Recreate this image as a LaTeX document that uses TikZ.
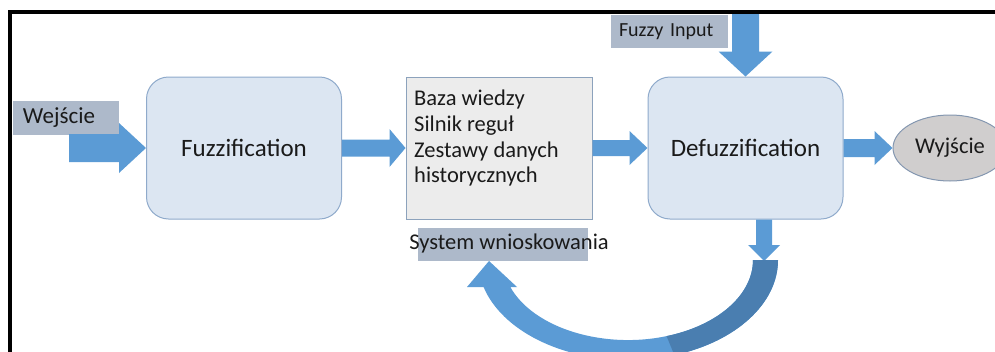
\documentclass[tikz,border=0pt]{standalone}
\usepackage{fontspec}
\setmainfont{Carlito}
\usetikzlibrary{calc,shapes.geometric}

\definecolor{procfill}{HTML}{DCE6F2}
\definecolor{procline}{HTML}{8FAACB}
\definecolor{kbfill}{HTML}{ECECEC}
\definecolor{kbline}{HTML}{8CA2BC}
\definecolor{tagfill}{HTML}{ADB9CA}
\definecolor{arrowblue}{HTML}{5B9BD5}
\definecolor{arrowdark}{HTML}{4A7EB0}
\definecolor{outfill}{HTML}{D0CECE}
\definecolor{outline}{HTML}{8497B0}
\definecolor{ink}{HTML}{1A1A1A}

% horizontal block arrow: from, to, shaft half width, head half width, head length
\newcommand\rightblock[5]{%
  \fill[blockarrow] let \p1=(#1), \p2=(#2) in
    (\x1,{\y2+#3pt}) -- ({\x2-#5pt},{\y2+#3pt}) -- ({\x2-#5pt},{\y2+#4pt})
    -- (\x2,\y2) -- ({\x2-#5pt},{\y2-#4pt}) -- ({\x2-#5pt},{\y2-#3pt})
    -- (\x1,{\y2-#3pt}) -- cycle;}
% vertical block arrow pointing down: from, to, shaft half width, head half width, head length
\newcommand\downblock[5]{%
  \fill[blockarrow] let \p1=(#1), \p2=(#2) in
    ({\x2-#3pt},\y1) -- ({\x2-#3pt},{\y2+#5pt}) -- ({\x2-#4pt},{\y2+#5pt})
    -- (\x2,\y2) -- ({\x2+#4pt},{\y2+#5pt}) -- ({\x2+#3pt},{\y2+#5pt})
    -- ({\x2+#3pt},\y1) -- cycle;}

\begin{document}
\begin{tikzpicture}[x=1pt,y=-1pt,
  proc/.style={draw=procline, fill=procfill, line width=1pt, rounded corners=22pt,
    minimum width=195pt, minimum height=142pt, inner sep=0pt, text=ink,
    font=\fontsize{25}{30}\selectfont},
  kbase/.style={draw=kbline, fill=kbfill, line width=1pt,
    minimum width=186pt, minimum height=142pt, inner sep=0pt},
  tag/.style={fill=tagfill, inner ysep=0pt, text=ink, align=left},
  outnode/.style={ellipse, draw=outline, fill=outfill, line width=1pt,
    minimum width=114pt, minimum height=66pt, inner sep=0pt, text=ink,
    font=\fontsize{22.5}{27}\selectfont},
  plain/.style={inner sep=0pt, text=ink, font=\fontsize{22.5}{25.7}\selectfont},
  blockarrow/.style={fill=arrowblue},
  frame/.style={line width=3.5pt, line join=miter}
]
\useasboundingbox (0,0) rectangle (995,351);

% processing blocks
\node[proc] (fuzz) at (244,148) {Fuzzification};
\node[kbase] (kb) at (499,148) {};
\node[plain, anchor=north west, align=left] (kbtext) at (414,90)
  {Baza wiedzy\\Silnik reguł\\Zestawy danych\\historycznych};
\node[proc] (defuzz) at (745.5,148) {Defuzzification};
\node[outnode] (out) at (950,148) {Wyjście};

% labels on grey tabs
\node[tag, text width=86pt, inner xsep=10pt, minimum height=34pt,
  font=\fontsize{23}{27}\selectfont] (inlabel) at (66,118) {Wejście};
\node[tag, text width=101pt, inner xsep=8pt, minimum height=33pt,
  font=\fontsize{20}{24}\selectfont] (fzlabel) at (669.5,31.5) {Fuzzy Input};
\node[fill=tagfill, minimum width=170pt, minimum height=33pt, inner sep=0pt]
  (systab) at (503,244.5) {};
\node[plain] (systext) at (509,243) {System wnioskowania};

% free ends of the block arrows
\coordinate (inStart) at (69,148);
\coordinate (fzTop) at (747,13);
\coordinate (loopTop) at (764,261);
\coordinate (loop) at (628,260);

% straight block arrows
\rightblock{inStart}{fuzz.west}{14}{25}{27}
\rightblock{fuzz.east}{kb.west}{8.5}{19}{16}
\rightblock{kb.east}{defuzz.west}{8}{17}{18}
\rightblock{defuzz.east}{out.west}{9}{17}{18}
\downblock{fzTop}{defuzz.north}{13.5}{27}{25}
\downblock{defuzz.south}{loopTop}{8}{16}{16}

% curved return arrow
\fill[arrowblue] ([xshift=150pt]loop) arc[start angle=0, end angle=164.3, x radius=150, y radius=100]
  -- (467,287) -- (489,261) -- (517,287) -- (510.3,287)
  arc[start angle=160.3, end angle=0, x radius=125, y radius=80] -- cycle;
\fill[arrowdark] ([xshift=150pt]loop) arc[start angle=0, end angle=72, x radius=150, y radius=100]
  -- (666.6,336.1) arc[start angle=72, end angle=0, x radius=125, y radius=80] -- cycle;

% outer frame
\draw[frame] (1000,12) -- (10,12) -- (10,360);
\end{tikzpicture}
\end{document}
